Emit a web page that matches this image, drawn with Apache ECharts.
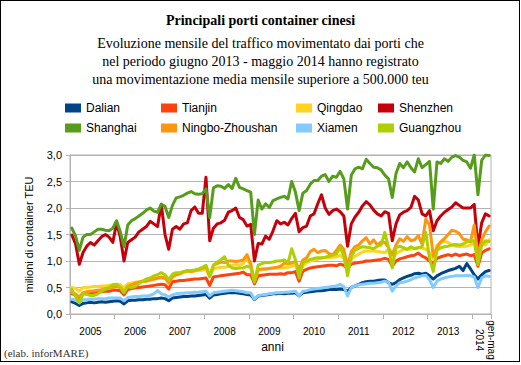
<!DOCTYPE html>
<html>
<head>
<meta charset="utf-8">
<script src="https://cdn.jsdelivr.net/npm/echarts@6.0.0/dist/echarts.min.js"></script>
<style>
html, body { margin: 0; padding: 0; background: #fff; }
#chart { position: absolute; left: 0; top: 0; width: 521px; height: 365px; }
#frame { position: absolute; left: 0; top: 0; width: 520px; height: 362px; border: 1px solid #000; box-sizing: border-box; pointer-events: none; }
</style>
</head>
<body>
<div id="chart"></div>
<div id="frame"></div>
<script>
// ---- categories / labels ----
const years = [2005, 2006, 2007, 2008, 2009, 2010, 2011, 2012, 2013, 2014];
const monthNames = ['gen', 'feb', 'mar', 'apr', 'mag', 'giu', 'lug', 'ago', 'set', 'ott', 'nov', 'dic'];
const monthsInLastYear = 5;
const yearLabels = ['2005', '2006', '2007', '2008', '2009', '2010', '2011', '2012', '2013'];
const lastLabel = 'gen-mag\n2014';

const seriesNames = ['Dalian', 'Tianjin', 'Qingdao', 'Shenzhen', 'Shanghai', 'Ningbo-Zhoushan', 'Xiamen', 'Guangzhou'];
const seriesColors = ['#004586', '#ff420e', '#ffd320', '#c5000b', '#579d1c', '#ff950e', '#83caff', '#aecf00'];

// ---- monthly values (million TEU), Jan 2005 .. May 2014 ----
const dalian = [
  0.23, 0.20, 0.16, 0.20, 0.21, 0.22, 0.21, 0.22, 0.23, 0.22, 0.23, 0.24,
  0.25, 0.24, 0.19, 0.25, 0.26, 0.26, 0.27, 0.27, 0.28, 0.28, 0.29, 0.29,
  0.30, 0.29, 0.25, 0.30, 0.31, 0.32, 0.33, 0.33, 0.34, 0.34, 0.35, 0.36,
  0.37, 0.30, 0.36, 0.37, 0.38, 0.39, 0.40, 0.40, 0.40, 0.39, 0.38, 0.37,
  0.36, 0.27, 0.34, 0.35, 0.36, 0.37, 0.38, 0.38, 0.39, 0.38, 0.39, 0.39,
  0.40, 0.34, 0.40, 0.41, 0.42, 0.43, 0.44, 0.44, 0.45, 0.46, 0.46, 0.46,
  0.47, 0.46, 0.43, 0.50, 0.53, 0.56, 0.59, 0.61, 0.62, 0.62, 0.63, 0.64,
  0.64, 0.59, 0.56, 0.59, 0.65, 0.68, 0.71, 0.73, 0.76, 0.77, 0.75, 0.77,
  0.72, 0.66, 0.72, 0.76, 0.79, 0.82, 0.84, 0.86, 0.90, 0.82, 0.95, 0.85,
  0.74, 0.66, 0.74, 0.80, 0.82
];
const tianjin = [
  0.38, 0.36, 0.30, 0.38, 0.40, 0.40, 0.41, 0.42, 0.42, 0.43, 0.43, 0.45,
  0.45, 0.44, 0.36, 0.46, 0.48, 0.49, 0.50, 0.51, 0.52, 0.53, 0.54, 0.55,
  0.56, 0.55, 0.47, 0.61, 0.62, 0.63, 0.63, 0.64, 0.65, 0.66, 0.66, 0.67,
  0.68, 0.54, 0.70, 0.71, 0.72, 0.73, 0.74, 0.75, 0.76, 0.77, 0.79, 0.74,
  0.74, 0.57, 0.72, 0.73, 0.74, 0.75, 0.75, 0.75, 0.76, 0.75, 0.78, 0.78,
  0.80, 0.62, 0.81, 0.84, 0.87, 0.88, 0.89, 0.90, 0.91, 0.92, 0.92, 0.91,
  0.94, 0.92, 0.85, 0.94, 0.96, 0.97, 0.98, 1.00, 1.00, 1.01, 1.02, 1.03,
  1.05, 1.03, 0.90, 1.00, 1.04, 1.06, 1.08, 1.10, 1.11, 1.15, 1.09, 1.06,
  1.00, 0.95, 1.05, 1.08, 1.10, 1.12, 1.10, 1.13, 1.10, 1.12, 1.13, 1.10,
  1.12, 0.90, 1.15, 1.20, 1.23
];
const qingdao = [
  0.50, 0.48, 0.43, 0.50, 0.50, 0.51, 0.52, 0.52, 0.53, 0.53, 0.54, 0.55,
  0.56, 0.55, 0.50, 0.57, 0.58, 0.60, 0.61, 0.62, 0.62, 0.64, 0.65, 0.67,
  0.68, 0.67, 0.62, 0.70, 0.74, 0.76, 0.78, 0.80, 0.80, 0.81, 0.82, 0.83,
  0.85, 0.72, 0.85, 0.87, 0.88, 0.88, 0.90, 0.92, 0.93, 0.92, 0.95, 1.08,
  0.90, 0.62, 0.82, 0.84, 0.85, 0.86, 0.87, 0.87, 0.87, 0.87, 0.88, 0.90,
  0.93, 0.75, 0.90, 0.97, 1.00, 1.02, 1.03, 1.05, 1.06, 1.06, 1.07, 1.08,
  1.11, 1.05, 0.90, 1.03, 1.09, 1.13, 1.17, 1.19, 1.19, 1.19, 1.18, 1.17,
  1.16, 1.22, 1.03, 1.14, 1.18, 1.22, 1.22, 1.22, 1.24, 1.25, 1.25, 1.22,
  1.16, 1.03, 1.30, 1.35, 1.37, 1.35, 1.30, 1.28, 1.27, 1.28, 1.28, 1.30,
  1.35, 1.05, 1.32, 1.30, 1.40
];
const shenzhen = [
  1.49, 1.32, 0.94, 1.16, 1.28, 1.35, 1.30, 1.38, 1.46, 1.50, 1.45, 1.35,
  1.72, 1.45, 1.00, 1.35, 1.40, 1.45, 1.55, 1.60, 1.65, 1.75, 1.70, 1.65,
  2.07, 1.50, 1.22, 1.60, 1.65, 1.60, 1.70, 1.72, 1.95, 2.02, 1.90, 1.90,
  2.58, 1.38, 1.62, 1.70, 1.72, 1.77, 1.92, 1.95, 2.00, 1.82, 1.78, 1.66,
  1.69, 1.00, 1.33, 1.32, 1.47, 1.41, 1.57, 1.76, 1.70, 1.73, 1.68, 1.80,
  1.90, 1.55, 1.63, 1.66, 1.85, 1.89, 2.08, 2.25, 2.00, 1.88, 1.95, 1.98,
  1.93, 1.85, 1.28, 1.70, 1.83, 1.92, 2.04, 2.12, 2.06, 1.96, 1.89, 1.85,
  1.93, 1.90, 1.38, 1.70, 1.87, 1.92, 1.95, 2.01, 2.22, 2.15, 1.89, 1.85,
  1.95, 1.57, 1.76, 1.85, 1.92, 1.97, 2.02, 2.10, 2.05, 2.00, 2.00, 2.00,
  2.07, 1.25, 1.72, 1.89, 1.85
];
const shanghai = [
  1.62, 1.47, 1.20, 1.45, 1.50, 1.50, 1.55, 1.60, 1.60, 1.58, 1.57, 1.62,
  1.76, 1.55, 1.27, 1.68, 1.76, 1.80, 1.85, 1.90, 1.96, 2.00, 1.94, 1.92,
  2.07, 2.03, 1.82, 2.05, 2.19, 2.21, 2.24, 2.28, 2.31, 2.27, 2.26, 2.27,
  2.36, 1.82, 2.38, 2.42, 2.41, 2.37, 2.44, 2.37, 2.56, 2.39, 2.36, 2.33,
  2.30, 1.50, 2.15, 1.98, 2.08, 2.01, 2.14, 2.17, 2.20, 2.22, 2.17, 2.50,
  2.30, 1.95, 2.28, 2.33, 2.45, 2.52, 2.52, 2.60, 2.63, 2.50, 2.60, 2.58,
  2.69, 2.55, 1.98, 2.62, 2.74, 2.77, 2.74, 2.92, 2.84, 2.77, 2.76, 2.72,
  2.62, 2.55, 2.20, 2.65, 2.84, 2.76, 2.87, 2.76, 2.68, 2.93, 2.76, 2.82,
  2.88, 1.98, 2.87, 2.84, 2.93, 2.88, 2.96, 2.99, 2.96, 2.90, 2.87, 2.75,
  3.00, 2.25, 2.90, 3.00, 2.99
];
const ningbo = [
  0.40, 0.38, 0.32, 0.40, 0.42, 0.43, 0.44, 0.45, 0.46, 0.47, 0.48, 0.50,
  0.52, 0.50, 0.42, 0.52, 0.55, 0.58, 0.60, 0.62, 0.62, 0.64, 0.66, 0.68,
  0.70, 0.68, 0.58, 0.70, 0.74, 0.76, 0.80, 0.82, 0.80, 0.82, 0.84, 0.86,
  0.90, 0.70, 0.92, 0.95, 0.98, 0.97, 1.00, 1.00, 0.99, 1.00, 1.02, 1.12,
  0.95, 0.62, 0.84, 0.85, 0.85, 0.86, 0.87, 0.88, 0.90, 0.96, 0.95, 0.96,
  1.00, 0.84, 1.02, 1.06, 1.18, 1.22, 1.16, 1.19, 1.20, 1.14, 1.12, 1.20,
  1.30, 1.22, 0.90, 1.18, 1.27, 1.30, 1.38, 1.44, 1.32, 1.40, 1.30, 1.36,
  1.35, 1.25, 1.12, 1.30, 1.42, 1.37, 1.46, 1.38, 1.40, 1.48, 1.32, 1.79,
  1.68, 1.09, 1.25, 1.36, 1.42, 1.50, 1.58, 1.56, 1.52, 1.41, 1.40, 1.36,
  1.68, 1.10, 1.40, 1.55, 1.66
];
const xiamen = [
  0.28, 0.26, 0.22, 0.27, 0.27, 0.28, 0.28, 0.29, 0.29, 0.29, 0.30, 0.30,
  0.30, 0.30, 0.25, 0.31, 0.32, 0.33, 0.33, 0.34, 0.34, 0.35, 0.38, 0.44,
  0.38, 0.36, 0.32, 0.36, 0.38, 0.39, 0.39, 0.40, 0.40, 0.41, 0.41, 0.42,
  0.43, 0.34, 0.40, 0.41, 0.42, 0.43, 0.44, 0.45, 0.44, 0.43, 0.42, 0.40,
  0.40, 0.28, 0.35, 0.36, 0.37, 0.38, 0.39, 0.40, 0.40, 0.41, 0.41, 0.42,
  0.43, 0.34, 0.43, 0.44, 0.46, 0.47, 0.48, 0.49, 0.50, 0.51, 0.52, 0.53,
  0.56, 0.52, 0.34, 0.50, 0.53, 0.55, 0.56, 0.57, 0.58, 0.58, 0.59, 0.60,
  0.62, 0.60, 0.43, 0.53, 0.59, 0.60, 0.62, 0.65, 0.68, 0.70, 0.72, 0.73,
  0.65, 0.50, 0.62, 0.66, 0.68, 0.70, 0.71, 0.72, 0.72, 0.72, 0.73, 0.72,
  0.70, 0.50, 0.68, 0.72, 0.71
];
const guangzhou = [
  0.46, 0.33, 0.21, 0.38, 0.37, 0.35, 0.35, 0.38, 0.43, 0.47, 0.50, 0.55,
  0.56, 0.50, 0.40, 0.52, 0.50, 0.52, 0.57, 0.62, 0.66, 0.68, 0.72, 0.74,
  0.78, 0.74, 0.65, 0.75, 0.78, 0.78, 0.80, 0.81, 0.82, 0.83, 0.85, 0.88,
  0.92, 0.72, 0.92, 0.98, 1.02, 1.08, 0.92, 0.87, 0.86, 0.87, 0.87, 0.90,
  0.88, 0.60, 0.92, 0.95, 0.97, 0.97, 0.98, 1.00, 1.00, 1.02, 0.96, 1.23,
  1.03, 0.68, 0.97, 1.00, 1.03, 1.05, 1.06, 1.06, 1.07, 1.09, 1.11, 1.13,
  1.25, 1.10, 0.72, 1.09, 1.20, 1.24, 1.27, 1.26, 1.25, 1.23, 1.28, 1.30,
  1.54, 1.25, 0.87, 1.25, 1.28, 1.25, 1.22, 1.27, 1.23, 1.25, 1.27, 1.54,
  1.05, 0.80, 1.20, 1.25, 1.27, 1.28, 1.30, 1.31, 1.30, 1.32, 1.36, 1.38,
  1.38, 0.93, 1.30, 1.38, 1.37
];
const seriesData = [dalian, tianjin, qingdao, shenzhen, shanghai, ningbo, xiamen, guangzhou];

// ---- build category axis ----
const categories = [];
years.forEach((y, yi) => {
  const n = yi === years.length - 1 ? monthsInLastYear : 12;
  for (let m = 0; m < n; m++) categories.push(monthNames[m] + ' ' + y);
});

const chart = echarts.init(document.getElementById('chart'), null, { renderer: 'svg' });

const legendCols = [65, 161, 296, 378];
const legendRows = [101, 121];
const legends = seriesNames.map((name, k) => ({
  data: [name],
  left: legendCols[k % 4],
  top: legendRows[Math.floor(k / 4)],
  orient: 'horizontal',
  padding: 0,
  icon: 'rect',
  itemWidth: 16,
  itemHeight: 9,
  selectedMode: false,
  textStyle: { fontFamily: 'Liberation Sans', fontSize: 12, color: '#000', lineHeight: 14 }
}));

const gray = '#b3b3b3';

chart.setOption({
  animation: false,
  backgroundColor: '#fff',
  textStyle: { fontFamily: 'Liberation Sans' },
  color: seriesColors,
  title: [
    {
      text: 'Principali porti container cinesi',
      subtext: 'Evoluzione mensile del traffico movimentato dai porti che\nnel periodo giugno 2013 - maggio 2014 hanno registrato\nuna movimentazione media mensile superiore a 500.000 teu',
      left: 'center',
      top: 12,
      padding: 0,
      itemGap: 6,
      textStyle: { fontFamily: 'Liberation Serif', fontSize: 14, fontWeight: 'bold', color: '#000', lineHeight: 16 },
      subtextStyle: { fontFamily: 'Liberation Serif', fontSize: 14, color: '#000', lineHeight: 18 }
    },
    {
      text: '(elab. inforMARE)',
      left: 4,
      top: 347,
      padding: 0,
      textStyle: { fontFamily: 'Liberation Serif', fontSize: 11, fontWeight: 'normal', color: '#333' }
    }
  ],
  legend: legends,
  grid: {
    left: 70, top: 155, width: 421, height: 159,
    show: true, borderColor: gray, borderWidth: 1,
    containLabel: false, outerBoundsMode: 'none'
  },
  xAxis: [
    {
      type: 'category',
      data: categories,
      boundaryGap: true,
      position: 'bottom',
      axisLine: { show: true, lineStyle: { color: gray, width: 1 } },
      axisTick: { show: true, length: 5, interval: (i) => i % 12 === 0, lineStyle: { color: gray } },
      axisLabel: {
        interval: (i) => i % 12 === 5 && i < 108,
        formatter: (v) => v.split(' ')[1],
        fontSize: 10, color: '#000', margin: 12
      },
      splitLine: { show: false },
      name: 'anni',
      nameLocation: 'middle',
      nameGap: 27,
      nameMoveOverlap: false,
      nameTextStyle: { fontSize: 12, color: '#000', padding: [0, 16, 0, 0] }
    },
    {
      type: 'category',
      data: categories,
      boundaryGap: true,
      position: 'bottom',
      axisLine: { show: false },
      axisTick: { show: false },
      splitLine: { show: false },
      axisLabel: {
        interval: (i) => i === 111,
        formatter: () => lastLabel,
        rotate: -90,
        align: 'center',
        verticalAlign: 'middle',
        margin: 26,
        fontSize: 10,
        lineHeight: 12,
        color: '#000'
      }
    }
  ],
  yAxis: {
    type: 'value',
    min: 0, max: 3, interval: 0.5,
    axisLine: { show: true, lineStyle: { color: gray } },
    axisTick: { show: true, length: 4, lineStyle: { color: gray } },
    axisLabel: { formatter: (v) => v.toFixed(1).replace('.', ','), fontSize: 11, color: '#000', margin: 8 },
    splitLine: { show: true, lineStyle: { color: gray, width: 1 } },
    name: 'milioni di container TEU',
    nameLocation: 'middle',
    nameGap: 36,
    nameMoveOverlap: false,
    nameTextStyle: { fontSize: 11, color: '#000' }
  },
  series: seriesNames.map((name, k) => ({
    name: name,
    type: 'line',
    xAxisIndex: 0,
    data: seriesData[k],
    symbol: 'none',
    showSymbol: false,
    lineStyle: { width: 3, color: seriesColors[k], cap: 'round', join: 'round' },
    itemStyle: { color: seriesColors[k] },
    emphasis: { disabled: true }
  }))
});
</script>
</body>
</html>
